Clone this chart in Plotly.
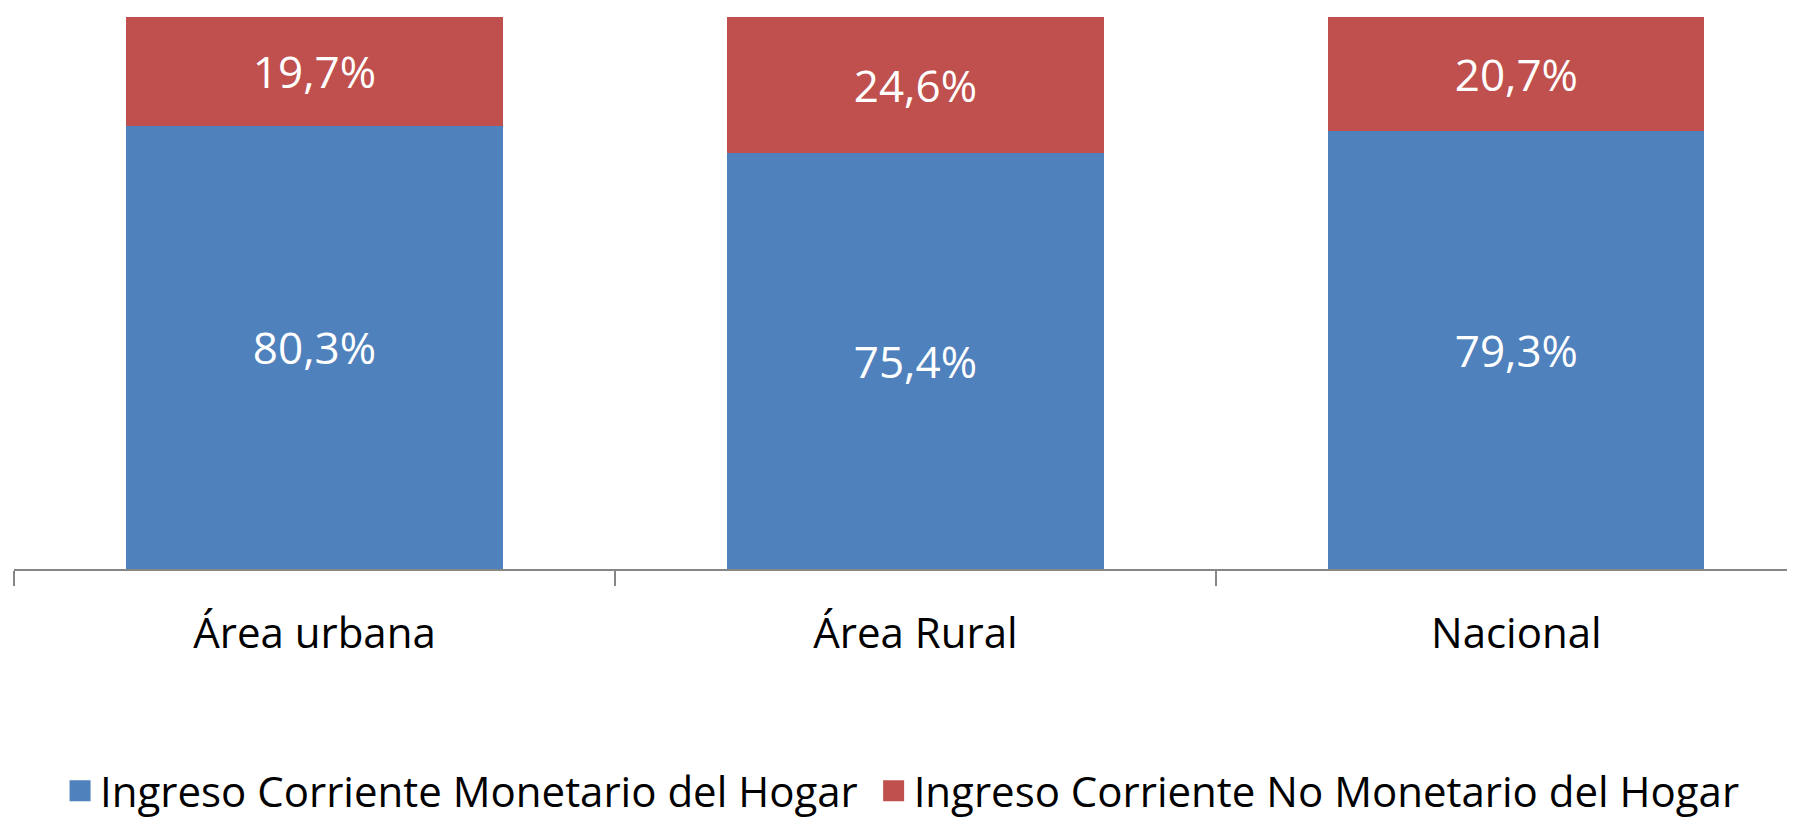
import plotly.graph_objects as go

categories = ["Área urbana", "Área Rural", "Nacional"]
monetario = [80.3, 75.4, 79.3]
no_monetario = [19.7, 24.6, 20.7]
labels_monetario = ["80,3%", "75,4%", "79,3%"]
labels_no_monetario = ["19,7%", "24,6%", "20,7%"]
series_names = ["Ingreso Corriente Monetario del Hogar", "Ingreso Corriente No Monetario del Hogar"]
colors = ["#4F81BD", "#C0504D"]

label_font = dict(family="Open Sans", size=44, color="white")

fig = go.Figure()
fig.add_trace(go.Bar(
    x=categories, y=monetario, name=series_names[0], showlegend=False,
    marker=dict(color=colors[0], line=dict(width=0)),
    text=labels_monetario, textposition="inside", insidetextanchor="middle",
    textfont=label_font, textangle=0, hoverinfo="skip",
))
fig.add_trace(go.Bar(
    x=categories, y=no_monetario, name=series_names[1], showlegend=False,
    marker=dict(color=colors[1], line=dict(width=0)),
    text=labels_no_monetario, textposition="inside", insidetextanchor="middle",
    textfont=label_font, textangle=0, hoverinfo="skip",
))
# legend entries with larger square symbols
pads = ["\u00a0", ""]
for name, col, pad in zip(series_names, colors, pads):
    fig.add_trace(go.Scatter(
        x=[None], y=[None], mode="markers", name=name + pad,
        marker=dict(symbol="square", size=26, color=col, line=dict(width=5, color=col)),
        hoverinfo="skip",
    ))

fig.update_layout(
    barmode="stack",
    bargap=0.374,
    width=1795, height=818,
    margin=dict(l=6, r=0, t=9, b=257),
    paper_bgcolor="white", plot_bgcolor="white",
    showlegend=True,
    legend=dict(
        orientation="h", xref="container", yref="container",
        x=0.029, y=0.043, xanchor="left", yanchor="middle",
        font=dict(family="Open Sans", size=42, color="black"),
        itemsizing="trace", traceorder="normal", itemwidth=30,
    ),
    xaxis=dict(
        type="category", range=[-0.5, 2.477],
        showline=True, linecolor="#868686", linewidth=1.5,
        ticks="outside", tickson="boundaries", ticklen=15, tickcolor="#868686", tickwidth=1.5,
        tickfont=dict(family="Open Sans", size=42, color="black"),
        ticklabelstandoff=27,
        showgrid=False, zeroline=False,
    ),
    yaxis=dict(range=[0, 100], visible=False, showgrid=False, zeroline=False),
)

fig.write_html("out.html")
